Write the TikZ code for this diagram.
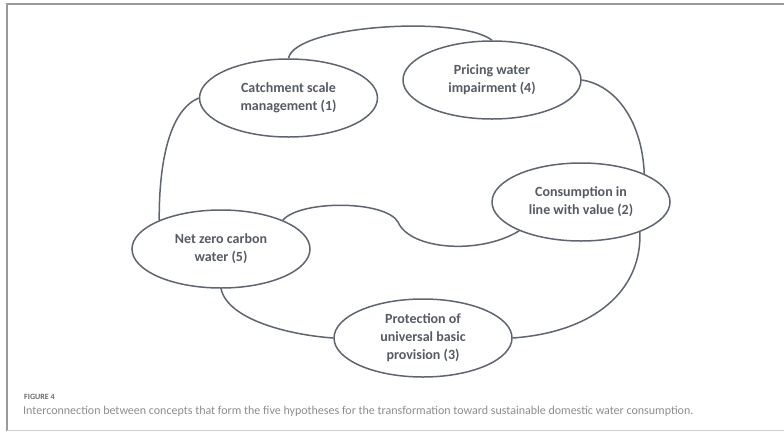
\documentclass[tikz,border=0pt]{standalone}
\usepackage{fontspec}
\setmainfont{Carlito}
\usetikzlibrary{shapes.geometric}
\definecolor{edgegray}{HTML}{5E6470}
\definecolor{labelgray}{HTML}{555A63}
\definecolor{framegray}{HTML}{9A9A9A}
\definecolor{captiongray}{HTML}{8C8C8C}
\begin{document}
\begin{tikzpicture}[x=1pt,y=-1pt,
  concept/.style={ellipse, draw=edgegray, line width=1.5pt, fill=white,
    minimum width=178pt, minimum height=78pt, inner sep=0pt,
    align=center, text=labelgray,
    font=\bfseries\fontsize{14}{18}\selectfont},
  link/.style={draw=edgegray, line width=1.5pt}]
  \useasboundingbox (0,0) rectangle (784,432);
  % frame
  \draw[framegray, line width=2pt] (7,431) -- (7,4) -- (784,4);
  \draw[black!20, line width=0.8pt] (7,430) -- (784,430);

  % concepts
  \node[concept] (c1) at (288.5,98) {Catchment scale\\management (1)};
  \node[concept] (c4) at (492,80) {Pricing water\\impairment (4)};
  \node[concept] (c2) at (581,202) {Consumption in\\line with value (2)};
  \node[concept] (c5) at (221,249) {Net zero carbon\\water (5)};
  \node[concept] (c3) at (423,338) {Protection of\\universal basic\\provision (3)};

  % interconnections
  \draw[link] (c1.90) .. controls (295,25) and (460,15) .. (c4.90);
  \draw[link] (c1.180) .. controls (170,110) and (159,160) .. (c5.155.7);
  \draw[link] (c4.0) .. controls (615,85) and (642,120) .. (c2.24.7);
  \coordinate (sbend) at (398,222);
  \draw[link] (c5.25) .. controls (300,200) and (385,200) .. (sbend)
              .. controls (410,250) and (480,255) .. (c2.205.8);
  \draw[link] (c5.270) .. controls (228,320) and (290,335) .. (c3.180);
  \draw[link] (c3.0) .. controls (595,332) and (642,290) .. (c2.333);

  % caption
  \node[anchor=west, inner sep=0pt, text=captiongray!75!black,
        font=\bfseries\fontsize{8}{9}\selectfont] (fig) at (24,397) {FIGURE 4};
  \node[anchor=west, inner sep=0pt, text=captiongray,
        font=\fontsize{12}{14}\selectfont] (cap) at (23,411)
    {Interconnection between concepts that form the five hypotheses for the transformation toward sustainable domestic water consumption.};
\end{tikzpicture}
\end{document}
